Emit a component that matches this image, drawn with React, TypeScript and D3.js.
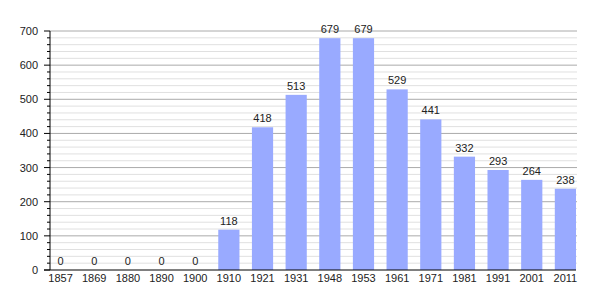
import React from "react";
import * as d3 from "d3";

const years = ["1857","1869","1880","1890","1900","1910","1921","1931","1948","1953","1961","1971","1981","1991","2001","2011"];
const population = [0,0,0,0,0,118,418,513,679,679,529,441,332,293,264,238];
const yTicks = [0,100,200,300,400,500,600,700];

const W = 605, H = 300;
const left = 50, right = 576, top = 31, bottom = 270;

export default function App() {
  const x = d3.scaleBand<string>().domain(years)
    .range([left, right]).paddingInner(0.37).paddingOuter(0);
  const bw = x.bandwidth();
  const y = d3.scaleLinear().domain([0, 700]).range([bottom, top]);
  const minor = d3.range(0, 701, 20).filter(v => v % 100 !== 0);
  const font = "Liberation Sans, Arial, sans-serif";
  return (
    <svg width={W} height={H} style={{ position: "absolute", left: 0, top: 0 }} fontFamily={font}>
      <rect width={W} height={H} fill="#fff" />
      {minor.map(v => (
        <g key={"m" + v}>
          <line x1={left} x2={right + 1} y1={y(v)} y2={y(v)} stroke="#e0e0e0" strokeWidth={1} />
          <line x1={left - 3} x2={left} y1={y(v)} y2={y(v)} stroke="#000" strokeWidth={1} />
        </g>
      ))}
      {yTicks.map(v => (
        <g key={"t" + v}>
          {v > 0 && <line x1={left} x2={right + 1} y1={y(v)} y2={y(v)} stroke="#aaa" strokeWidth={1} />}
          <line x1={left - 6} x2={left} y1={y(v)} y2={y(v)} stroke="#000" strokeWidth={1} />
          <text x={38} y={y(v) + 4} textAnchor="end" fontSize={11} fill="#222">{v}</text>
        </g>
      ))}
      {population.map((v, i) => {
        const bx = x(years[i]) as number;
        return (
          <g key={years[i]}>
            <rect x={bx} y={y(v)} width={bw} height={bottom - y(v)} fill="#99aaff" />
            <text x={bx + bw / 2} y={y(v) - 5} textAnchor="middle" fontSize={11} fill="#222">{v}</text>
            <text x={bx + bw / 2} y={282} textAnchor="middle" fontSize={11} fill="#222">{years[i]}</text>
          </g>
        );
      })}
      <line x1={left} x2={left} y1={top} y2={bottom} stroke="#000" strokeWidth={1} />
      <line x1={left - 6} x2={right} y1={bottom} y2={bottom} stroke="#000" strokeWidth={1} />
    </svg>
  );
}
